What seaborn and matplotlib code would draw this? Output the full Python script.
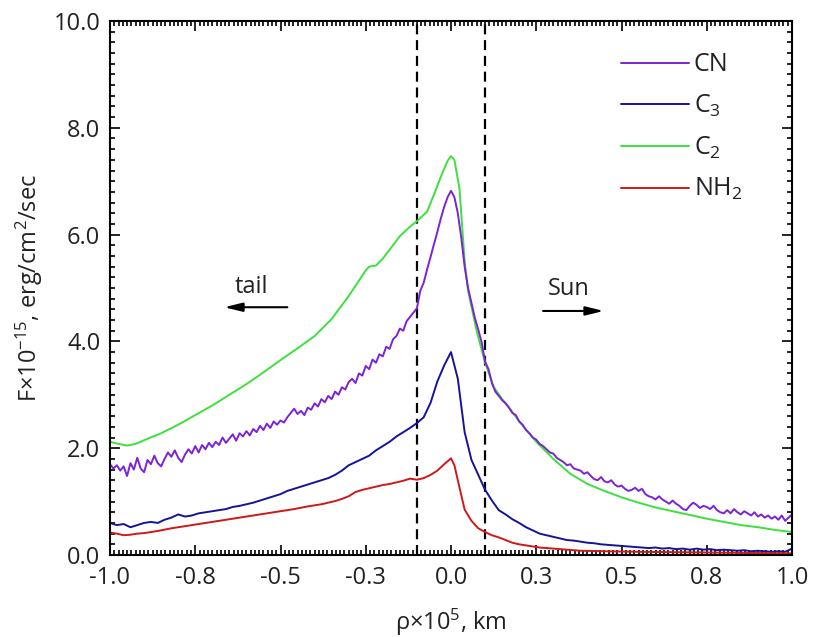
import numpy as np
import pandas as pd
import matplotlib
matplotlib.use("Agg")
import matplotlib.pyplot as plt
from matplotlib.ticker import MultipleLocator, FixedLocator
import seaborn as sns

# ---------------- data ----------------
x_cn = np.round(np.arange(-1.0, 1.0001, 0.01), 2)
cn = [1.70, 1.62, 1.68, 1.58, 1.66, 1.48, 1.72, 1.60, 1.82, 1.62,
      1.55, 1.78, 1.70, 1.86, 1.72, 1.66, 1.80, 1.92, 1.84, 1.96,
      1.82, 1.74, 1.88, 1.98, 1.90, 2.04, 1.92, 2.06, 1.98, 2.10,
      2.02, 2.12, 2.06, 2.20, 2.10, 2.18, 2.26, 2.14, 2.28, 2.22,
      2.32, 2.24, 2.36, 2.30, 2.42, 2.34, 2.46, 2.38, 2.50, 2.44,
      2.52, 2.48, 2.58, 2.66, 2.74, 2.64, 2.70, 2.62, 2.76, 2.72,
      2.84, 2.78, 2.92, 2.86, 2.98, 2.92, 3.06, 3.00, 3.14, 3.10,
      3.24, 3.30, 3.22, 3.40, 3.36, 3.54, 3.48, 3.66, 3.60, 3.76,
      3.72, 3.90, 3.86, 4.04, 4.10, 4.24, 4.20, 4.38, 4.46, 4.54,
      4.62, 4.95, 5.10, 5.35, 5.58, 5.82, 6.05, 6.30, 6.52, 6.70,
      6.82,
      6.70, 6.40, 5.95, 5.40, 5.00, 4.72, 4.44, 4.22, 3.98, 3.62,
      3.48, 3.22, 3.06, 2.98, 2.90, 2.84, 2.76, 2.66, 2.62, 2.50,
      2.44, 2.34, 2.28, 2.20, 2.16, 2.08, 2.04, 1.98, 1.92, 1.90,
      1.82, 1.78, 1.74, 1.68, 1.70, 1.62, 1.60, 1.58, 1.52, 1.55,
      1.48, 1.42, 1.40, 1.46, 1.38, 1.36, 1.40, 1.32, 1.28, 1.30,
      1.24, 1.20, 1.22, 1.26, 1.20, 1.24, 1.14, 1.10, 1.08, 1.04,
      1.10, 1.04, 1.00, 0.96, 1.02, 0.96, 0.92, 0.86, 0.84, 0.92,
      0.98, 0.94, 0.88, 0.92, 0.90, 0.86, 0.92, 0.84, 0.80, 0.78,
      0.84, 0.78, 0.86, 0.80, 0.76, 0.82, 0.78, 0.74, 0.80, 0.72,
      0.76, 0.70, 0.74, 0.68, 0.72, 0.66, 0.74, 0.64, 0.70, 0.76]

x_c3 = np.round(np.arange(-1.0, 1.0001, 0.02), 2)
c3 = [0.60, 0.56, 0.58, 0.52, 0.56, 0.60, 0.62, 0.60, 0.66, 0.70,
      0.76, 0.72, 0.74, 0.78, 0.80, 0.82, 0.84, 0.86, 0.90, 0.92,
      0.95, 0.98, 1.02, 1.06, 1.10, 1.14, 1.20, 1.24, 1.28, 1.32,
      1.36, 1.40, 1.44, 1.50, 1.58, 1.68, 1.74, 1.80, 1.86, 1.96,
      2.04, 2.12, 2.22, 2.30, 2.38, 2.47, 2.58, 2.85, 3.25, 3.55,
      3.80,
      3.30, 2.30, 1.78, 1.50, 1.22, 1.02, 0.84, 0.76, 0.67, 0.60,
      0.52, 0.46, 0.40, 0.37, 0.34, 0.31, 0.28, 0.27, 0.25, 0.23,
      0.22, 0.20, 0.19, 0.18, 0.17, 0.16, 0.15, 0.14, 0.13, 0.14,
      0.12, 0.13, 0.11, 0.12, 0.10, 0.12, 0.10, 0.11, 0.09, 0.10,
      0.09, 0.08, 0.09, 0.07, 0.08, 0.07, 0.06, 0.07, 0.06, 0.12]

x_c2 = [-1.0, -0.975, -0.95, -0.925, -0.9, -0.85, -0.8, -0.75, -0.7, -0.65,
        -0.6, -0.55, -0.5, -0.45, -0.4, -0.35, -0.3, -0.25, -0.24, -0.22,
        -0.2, -0.15, -0.12, -0.1, -0.07, -0.05, -0.03, -0.01, 0.0, 0.01,
        0.025, 0.04, 0.05, 0.075, 0.1, 0.125, 0.15, 0.175, 0.2, 0.25,
        0.3, 0.35, 0.4, 0.45, 0.5, 0.55, 0.6, 0.65, 0.7, 0.75,
        0.8, 0.85, 0.9, 0.95, 1.0]
c2 = [2.12, 2.08, 2.05, 2.08, 2.15, 2.28, 2.44, 2.62, 2.80, 3.00,
      3.20, 3.42, 3.65, 3.87, 4.10, 4.42, 4.85, 5.33, 5.40, 5.42,
      5.55, 5.97, 6.15, 6.25, 6.43, 6.75, 7.08, 7.38, 7.47, 7.40,
      6.85, 5.50, 4.95, 4.20, 3.60, 3.15, 2.92, 2.72, 2.50, 2.12,
      1.80, 1.52, 1.33, 1.20, 1.08, 0.98, 0.89, 0.82, 0.75, 0.68,
      0.62, 0.56, 0.52, 0.47, 0.43]

x_nh2 = [-1.0, -0.98, -0.96, -0.94, -0.92, -0.9, -0.86, -0.82, -0.78, -0.74,
         -0.7, -0.66, -0.62, -0.58, -0.54, -0.5, -0.46, -0.42, -0.38, -0.34,
         -0.32, -0.3, -0.28, -0.26, -0.24, -0.22, -0.2, -0.18, -0.16, -0.14,
         -0.12, -0.1, -0.08, -0.06, -0.04, -0.02, 0.0, 0.01, 0.02, 0.04,
         0.06, 0.08, 0.1, 0.12, 0.14, 0.16, 0.18, 0.2, 0.22, 0.24,
         0.26, 0.28, 0.3, 0.34, 0.38, 0.45, 0.55, 0.7, 0.85, 1.0]
nh2 = [0.42, 0.40, 0.37, 0.38, 0.40, 0.41, 0.45, 0.50, 0.54, 0.58,
       0.62, 0.66, 0.70, 0.74, 0.78, 0.82, 0.86, 0.91, 0.95, 1.01,
       1.05, 1.10, 1.18, 1.22, 1.25, 1.28, 1.31, 1.33, 1.36, 1.39,
       1.43, 1.41, 1.44, 1.50, 1.58, 1.70, 1.81, 1.68, 1.40, 0.85,
       0.64, 0.50, 0.43, 0.37, 0.33, 0.28, 0.23, 0.20, 0.18, 0.16,
       0.14, 0.13, 0.12, 0.10, 0.08, 0.07, 0.06, 0.05, 0.04, 0.03]

series_names = ["CN", "C$_3$", "C$_2$", "NH$_2$"]
series_colors = ["#7d22d4", "#14149a", "#3ee03e", "#d01818"]

x_ticks = [-1.0, -0.75, -0.5, -0.25, 0.0, 0.25, 0.5, 0.75, 1.0]
x_tick_labels = ["-1.0", "-0.8", "-0.5", "-0.3", "0.0", "0.3", "0.5", "0.8", "1.0"]
y_ticks = [0, 2, 4, 6, 8, 10]
y_tick_labels = ["0.0", "2.0", "4.0", "6.0", "8.0", "10.0"]

# ---------------- style ----------------
sns.set_theme(style="ticks")
plt.rcParams["font.family"] = ["Open Sans", "DejaVu Sans"]
plt.rcParams["mathtext.fontset"] = "custom"
plt.rcParams["mathtext.rm"] = "Open Sans"
plt.rcParams["mathtext.it"] = "Open Sans"
plt.rcParams["mathtext.default"] = "regular"

fig, ax = plt.subplots(figsize=(8.14, 6.37), dpi=100)
fig.subplots_adjust(left=110 / 814, right=792 / 814, top=1 - 21 / 637, bottom=1 - 555 / 637)

frames = {
    "CN": pd.DataFrame({"x": x_cn, "y": cn}),
    "C$_3$": pd.DataFrame({"x": x_c3, "y": c3}),
    "C$_2$": pd.DataFrame({"x": x_c2, "y": c2}),
    "NH$_2$": pd.DataFrame({"x": x_nh2, "y": nh2}),
}
draw_order = ["C$_2$", "CN", "C$_3$", "NH$_2$"]
col = dict(zip(series_names, series_colors))
for name in draw_order:
    sns.lineplot(data=frames[name], x="x", y="y", color=col[name], lw=1.4,
                 estimator=None, label=name, ax=ax)

# dashed vertical lines
for xv in (-0.1, 0.1):
    ax.axvline(xv, color="black", lw=1.6, ls=(0, (4.5, 2.6)), zorder=1)

ax.set_xlim(-1.0, 1.0)
ax.set_ylim(0, 10)
ax.xaxis.set_major_locator(FixedLocator(x_ticks))
ax.set_xticklabels(x_tick_labels)
ax.xaxis.set_minor_locator(MultipleLocator(0.0125))
ax.yaxis.set_major_locator(FixedLocator(y_ticks))
ax.set_yticklabels(y_tick_labels)
ax.yaxis.set_minor_locator(MultipleLocator(0.2))
ax.tick_params(which="both", direction="in", top=True, right=True,
               colors="black", width=1.2, labelsize=17, labelcolor="#222222")
ax.tick_params(which="major", length=7)
ax.tick_params(which="minor", length=3.5)
ax.tick_params(axis="x", pad=8)
ax.tick_params(axis="y", pad=7)
for s in ax.spines.values():
    s.set_linewidth(1.5)
    s.set_color("black")

ax.set_xlabel("ρ×10$^5$, km", fontsize=17, color="#222222", labelpad=12)
ax.set_ylabel("F×10$^{-15}$, erg/cm$^2$/sec", fontsize=17, color="#222222", labelpad=6)

# annotations: tail / Sun with arrows
ax.text(-0.584, 4.91, "tail", fontsize=17, ha="center", va="baseline", color="#222222")
ax.annotate("", xy=(-0.665, 4.64), xytext=(-0.48, 4.64),
            arrowprops=dict(arrowstyle="-|>,head_length=0.9,head_width=0.22",
                            color="black", lw=1.5, shrinkA=0, shrinkB=0))
ax.text(0.346, 4.87, "Sun", fontsize=17, ha="center", va="baseline", color="#222222")
ax.annotate("", xy=(0.448, 4.57), xytext=(0.27, 4.57),
            arrowprops=dict(arrowstyle="-|>,head_length=0.9,head_width=0.22",
                            color="black", lw=1.5, shrinkA=0, shrinkB=0))

# legend in order CN, C3, C2, NH2
handles, labels = ax.get_legend_handles_labels()
hl = dict(zip(labels, handles))
ax.legend([hl[n] for n in series_names], series_names, loc="upper left",
          bbox_to_anchor=(0.735, 0.96), frameon=False, fontsize=18,
          handlelength=2.7, handletextpad=0.2, labelspacing=0.62,
          borderaxespad=0, labelcolor="#222222")

fig.savefig("out.png", dpi=100)
